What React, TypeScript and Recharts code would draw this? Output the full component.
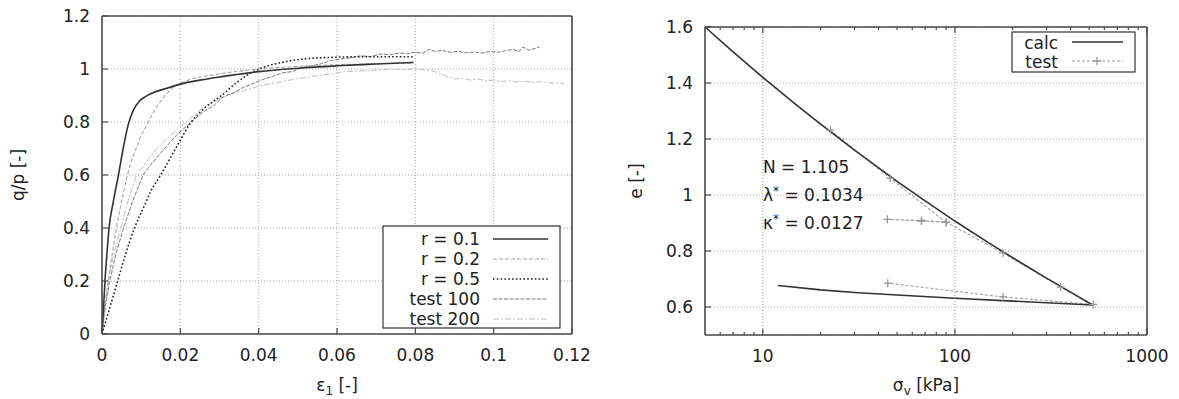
import React from 'react';
import { LineChart, Line, XAxis, YAxis, CartesianGrid, ReferenceLine } from 'recharts';

const FONT = '"DejaVu Sans", sans-serif';
const INK = '#222';
const FRAME = '#4a4a4a';

// left panel: q/p against axial strain
const STRAIN_TICKS = [0, 0.02, 0.04, 0.06, 0.08, 0.1, 0.12];
const RATIO_TICKS = [0, 0.2, 0.4, 0.6, 0.8, 1, 1.2];

const r01 = [
  [0, 0], [0.0004, 0.1], [0.00076, 0.2], [0.0013, 0.31], [0.0018, 0.4], [0.0029, 0.5], [0.0042, 0.6],
  [0.0054, 0.7], [0.0067, 0.79], [0.008, 0.845], [0.0095, 0.878], [0.011, 0.895], [0.013, 0.91], [0.016, 0.925],
  [0.02, 0.943], [0.025, 0.958], [0.03, 0.97], [0.035, 0.98], [0.04, 0.99], [0.05, 1.003], [0.06, 1.012],
  [0.07, 1.019], [0.0795, 1.025],
];

const r02 = [
  [0, 0], [0.0008, 0.1], [0.0016, 0.2], [0.0026, 0.3], [0.0037, 0.4], [0.005, 0.5], [0.0065, 0.6],
  [0.0092, 0.72], [0.0118, 0.8], [0.0135, 0.845], [0.0152, 0.883], [0.017, 0.915], [0.0186, 0.935],
  [0.022, 0.958], [0.028, 0.977], [0.034, 0.99], [0.04, 1.0], [0.05, 1.01], [0.06, 1.016], [0.07, 1.02],
  [0.0795, 1.022],
];

const r05 = [
  [0, 0], [0.002, 0.1], [0.004, 0.2], [0.006, 0.3], [0.0083, 0.4], [0.011, 0.49], [0.0125, 0.54],
  [0.015, 0.6], [0.0188, 0.7], [0.0228, 0.8], [0.026, 0.85], [0.0305, 0.9], [0.0345, 0.95], [0.038, 0.985],
  [0.041, 1.005], [0.046, 1.025], [0.051, 1.037], [0.057, 1.043], [0.065, 1.046], [0.0795, 1.046],
];

const test100 = [
  [0, 0], [0.0008, 0.1], [0.002, 0.2], [0.0035, 0.3], [0.0055, 0.4], [0.0078, 0.5], [0.0105, 0.6],
  [0.0125, 0.64], [0.016, 0.7], [0.019, 0.75], [0.0228, 0.8], [0.026, 0.84], [0.0285, 0.862], [0.031, 0.895],
  [0.0335, 0.91], [0.036, 0.93], [0.0385, 0.945], [0.041, 0.96], [0.0435, 0.972], [0.046, 0.985],
  [0.0485, 0.99], [0.051, 1.005], [0.0535, 1.012], [0.056, 1.02], [0.0585, 1.032], [0.061, 1.038],
  [0.0635, 1.042], [0.066, 1.05], [0.0685, 1.047], [0.071, 1.056], [0.0735, 1.054], [0.076, 1.06],
  [0.078, 1.058], [0.08, 1.063], [0.082, 1.06], [0.0835, 1.074], [0.085, 1.066], [0.087, 1.07],
  [0.089, 1.063], [0.091, 1.067], [0.093, 1.061], [0.095, 1.064], [0.097, 1.06], [0.099, 1.066],
  [0.101, 1.063], [0.103, 1.069], [0.105, 1.074], [0.1065, 1.066], [0.1075, 1.083], [0.109, 1.071],
  [0.1105, 1.077], [0.1117, 1.083],
];

const test200 = [
  [0, 0], [0.0006, 0.1], [0.0016, 0.2], [0.003, 0.3], [0.0048, 0.4], [0.0066, 0.5], [0.0088, 0.6],
  [0.014, 0.7], [0.0175, 0.75], [0.0215, 0.8], [0.025, 0.845], [0.0283, 0.875], [0.031, 0.895],
  [0.034, 0.91], [0.037, 0.922], [0.04, 0.935], [0.043, 0.945], [0.046, 0.952], [0.049, 0.962],
  [0.052, 0.968], [0.055, 0.975], [0.0587, 0.982], [0.062, 0.99], [0.065, 0.992], [0.068, 0.995],
  [0.071, 0.997], [0.074, 1.0], [0.077, 0.998], [0.08, 1.0], [0.082, 0.997], [0.084, 0.994],
  [0.086, 0.985], [0.088, 0.972], [0.09, 0.962], [0.092, 0.965], [0.094, 0.958], [0.096, 0.962],
  [0.098, 0.955], [0.1, 0.958], [0.102, 0.953], [0.104, 0.956], [0.106, 0.951], [0.108, 0.954],
  [0.11, 0.95], [0.112, 0.952], [0.114, 0.948], [0.116, 0.947], [0.118, 0.944],
];

// right panel: void ratio against vertical stress (log)
const STRESS_MAJOR = [10, 100, 1000];
const STRESS_MINOR = [6, 7, 8, 9, 20, 30, 40, 50, 60, 70, 80, 90, 200, 300, 400, 500, 600, 700, 800, 900];
const VOID_TICKS = [0.6, 0.8, 1, 1.2, 1.4, 1.6];

const calc = [
  [5, 1.6], [7, 1.511], [10, 1.42], [15, 1.321], [20, 1.253], [30, 1.16], [50, 1.049], [70, 0.979],
  [100, 0.907], [150, 0.829], [200, 0.776], [300, 0.703], [400, 0.653], [520, 0.607],
  [300, 0.615], [200, 0.621], [100, 0.631], [50, 0.643], [30, 0.652], [20, 0.661], [12, 0.677],
];

const oedoTest = [
  [22.5, 1.232], [46, 1.06], [90, 0.902], [67, 0.907], [44.5, 0.913], [67, 0.909], [90, 0.903],
  [178, 0.793], [355, 0.671], [525, 0.609], [178, 0.636], [44.7, 0.685],
];

const pts = (a: number[][]) => a.map(([x, y]) => ({ x, y }));

const stressTicks = [...STRESS_MAJOR, ...STRESS_MINOR].sort((a, b) => a - b);

function Tick(props: any) {
  const { x, y, payload, side, showLabel, majors } = props;
  const v = payload.value;
  const major = !majors || majors.includes(v);
  const len = major ? 6 : 3;
  let line;
  if (side === 'bottom') line = <line x1={x} y1={y} x2={x} y2={y - len} />;
  else if (side === 'top') line = <line x1={x} y1={y} x2={x} y2={y + len} />;
  else if (side === 'left') line = <line x1={x} y1={y} x2={x + len} y2={y} />;
  else line = <line x1={x} y1={y} x2={x - len} y2={y} />;
  let label = null;
  if (showLabel && major) {
    if (side === 'bottom') {
      label = <text x={x} y={y + 27} textAnchor="middle">{v}</text>;
    } else {
      label = <text x={x - 12} y={y + 6} textAnchor="end">{v}</text>;
    }
  }
  return (
    <g>
      <g stroke={FRAME} strokeWidth={1.2}>{line}</g>
      {label && <g fill={INK} fontSize={17} fontFamily={FONT}>{label}</g>}
    </g>
  );
}

const frame = { stroke: FRAME, strokeWidth: 1.6 };

function PlusDot(props: any) {
  const { cx, cy } = props;
  if (cx == null || cy == null) return <g />;
  return <path d={`M${cx - 4},${cy}h8M${cx},${cy - 4}v8`} stroke="#999" strokeWidth={1.3} fill="none" />;
}

function StrainChart() {
  return (
    <LineChart width={600} height={399} margin={{ top: 15, right: 27, bottom: 0, left: 42 }}>
      <CartesianGrid xAxisId="b" yAxisId="l" stroke="#aaa" strokeDasharray="1 2" />
      <XAxis xAxisId="b" type="number" dataKey="x" domain={[0, 0.12]} ticks={STRAIN_TICKS} interval={0}
        height={65} tickSize={0} tickMargin={0} tickLine={false} axisLine={frame}
        tick={<Tick side="bottom" showLabel />} />
      <XAxis xAxisId="t" orientation="top" type="number" dataKey="x" domain={[0, 0.12]} ticks={STRAIN_TICKS}
        interval={0} height={1} tickSize={0} tickMargin={0} tickLine={false} axisLine={frame}
        tick={<Tick side="top" />} />
      <YAxis yAxisId="l" type="number" dataKey="y" domain={[0, 1.2]} ticks={RATIO_TICKS} interval={0}
        width={60} tickSize={0} tickMargin={0} tickLine={false} axisLine={frame}
        tick={<Tick side="left" showLabel />} />
      <YAxis yAxisId="r" orientation="right" type="number" dataKey="y" domain={[0, 1.2]} ticks={RATIO_TICKS}
        interval={0} width={1} tickSize={0} tickMargin={0} tickLine={false} axisLine={frame}
        tick={<Tick side="right" />} />
      <Line xAxisId="b" yAxisId="l" data={pts(test200)} dataKey="y" name="test 200" stroke="#bdbdbd"
        strokeWidth={1} strokeDasharray="6 2 2 2" dot={false} activeDot={false} isAnimationActive={false} />
      <Line xAxisId="b" yAxisId="l" data={pts(test100)} dataKey="y" name="test 100" stroke="#7a7a7a"
        strokeWidth={1} strokeDasharray="4 1.5" dot={false} activeDot={false} isAnimationActive={false} />
      <Line xAxisId="b" yAxisId="l" type="monotone" data={pts(r02)} dataKey="y" name="r = 0.2" stroke="#a8a8a8"
        strokeWidth={1.1} strokeDasharray="4 2" dot={false} activeDot={false} isAnimationActive={false} />
      <Line xAxisId="b" yAxisId="l" type="monotone" data={pts(r05)} dataKey="y" name="r = 0.5" stroke="#222"
        strokeWidth={1.6} strokeDasharray="1.6 2.2" dot={false} activeDot={false} isAnimationActive={false} />
      <Line xAxisId="b" yAxisId="l" type="monotone" data={pts(r01)} dataKey="y" name="r = 0.1" stroke="#333"
        strokeWidth={1.6} dot={false} activeDot={false} isAnimationActive={false} />
    </LineChart>
  );
}

function OedometerChart() {
  return (
    <LineChart width={559} height={399} margin={{ top: 26, right: 31, bottom: 0, left: 25 }}>
      <CartesianGrid xAxisId="b" yAxisId="l" vertical={false} stroke="#aaa" strokeDasharray="1 2" />
      <XAxis xAxisId="b" type="number" scale="log" dataKey="x" domain={[5, 1000]} allowDataOverflow
        ticks={stressTicks} interval={0} height={64} tickSize={0} tickMargin={0} tickLine={false}
        axisLine={frame} tick={<Tick side="bottom" showLabel majors={STRESS_MAJOR} />} />
      <XAxis xAxisId="t" orientation="top" type="number" scale="log" dataKey="x" domain={[5, 1000]}
        allowDataOverflow ticks={stressTicks} interval={0} height={1} tickSize={0} tickMargin={0}
        tickLine={false} axisLine={frame} tick={<Tick side="top" majors={STRESS_MAJOR} />} />
      <YAxis yAxisId="l" type="number" dataKey="y" domain={[0.5, 1.6]} ticks={VOID_TICKS} interval={0}
        width={60} tickSize={0} tickMargin={0} tickLine={false} axisLine={frame}
        tick={<Tick side="left" showLabel />} />
      <YAxis yAxisId="r" orientation="right" type="number" dataKey="y" domain={[0.5, 1.6]} ticks={VOID_TICKS}
        interval={0} width={1} tickSize={0} tickMargin={0} tickLine={false} axisLine={frame}
        tick={<Tick side="right" />} />
      <ReferenceLine xAxisId="b" yAxisId="l" x={10} stroke="#999" strokeDasharray="1 2" />
      <ReferenceLine xAxisId="b" yAxisId="l" x={100} stroke="#999" strokeDasharray="1 2" />
      <Line xAxisId="b" yAxisId="l" data={pts(oedoTest)} dataKey="y" name="test" stroke="#a0a0a0"
        strokeWidth={1.1} strokeDasharray="3 2" dot={<PlusDot />} activeDot={false} isAnimationActive={false} />
      <Line xAxisId="b" yAxisId="l" data={pts(calc)} dataKey="y" name="calc" stroke="#333"
        strokeWidth={1.6} dot={false} activeDot={false} isAnimationActive={false} />
    </LineChart>
  );
}

const leftLegend = [
  { label: 'r = 0.1', stroke: '#333', dash: undefined, w: 1.6 },
  { label: 'r = 0.2', stroke: '#a8a8a8', dash: '4 2', w: 1.1 },
  { label: 'r = 0.5', stroke: '#222', dash: '1.6 2.2', w: 1.6 },
  { label: 'test 100', stroke: '#7a7a7a', dash: '4 1.5', w: 1 },
  { label: 'test 200', stroke: '#bdbdbd', dash: '6 2 2 2', w: 1 },
];

function Overlay() {
  const txt = { fill: INK, fontSize: 17, fontFamily: FONT } as const;
  return (
    <svg width={1179} height={399} style={{ position: 'absolute', left: 0, top: 0, pointerEvents: 'none' }}>
      {/* axis titles */}
      <text {...txt} x={18} y={175} textAnchor="middle" dominantBaseline="central" transform="rotate(-90 18 175)">
        q/p [-]
      </text>
      <text {...txt} x={337} y={391} textAnchor="middle">
        ε<tspan fontSize={12} dy={4}>1</tspan><tspan dy={-4}> [-]</tspan>
      </text>
      <text {...txt} x={636} y={181} textAnchor="middle" dominantBaseline="central" transform="rotate(-90 636 181)">
        e [-]
      </text>
      <text {...txt} x={926} y={391} textAnchor="middle">
        σ<tspan fontSize={12} dy={4}>v</tspan><tspan dy={-4}> [kPa]</tspan>
      </text>

      {/* left legend */}
      <rect x={383} y={226} width={177} height={102} fill="#fff" stroke="#333" strokeWidth={1.2} />
      {leftLegend.map((e, i) => (
        <g key={e.label}>
          <text {...txt} x={480} y={245 + i * 20} textAnchor="end">{e.label}</text>
          <line x1={493} x2={548} y1={239 + i * 20} y2={239 + i * 20} stroke={e.stroke}
            strokeWidth={e.w} strokeDasharray={e.dash} />
        </g>
      ))}

      {/* right legend */}
      <rect x={1012} y={32} width={123} height={40} fill="#fff" stroke="#333" strokeWidth={1.2} />
      <text {...txt} x={1058} y={49} textAnchor="end">calc</text>
      <line x1={1072} x2={1123} y1={42} y2={42} stroke="#333" strokeWidth={1.6} />
      <text {...txt} x={1058} y={68} textAnchor="end">test</text>
      <line x1={1072} x2={1123} y1={61} y2={61} stroke="#a0a0a0" strokeWidth={1.1} strokeDasharray="3 2" />
      <path d="M1093,61h8M1097,57v8" stroke="#999" strokeWidth={1.3} />

      {/* parameters */}
      <text {...txt} x={763} y={173}>N = 1.105</text>
      <text {...txt} x={763} y={201}>λ<tspan fontSize={12} dy={-6}>*</tspan><tspan dy={6}> = 0.1034</tspan></text>
      <text {...txt} x={763} y={229}>κ<tspan fontSize={12} dy={-6}>*</tspan><tspan dy={6}> = 0.0127</tspan></text>
    </svg>
  );
}

export default function App() {
  return (
    <div style={{ position: 'absolute', left: 0, top: 0, width: 1179, height: 399, background: '#fff', overflow: 'hidden' }}>
      <div style={{ position: 'absolute', left: 0, top: 0 }}>
        <StrainChart />
      </div>
      <div style={{ position: 'absolute', left: 620, top: 0 }}>
        <OedometerChart />
      </div>
      <Overlay />
    </div>
  );
}
